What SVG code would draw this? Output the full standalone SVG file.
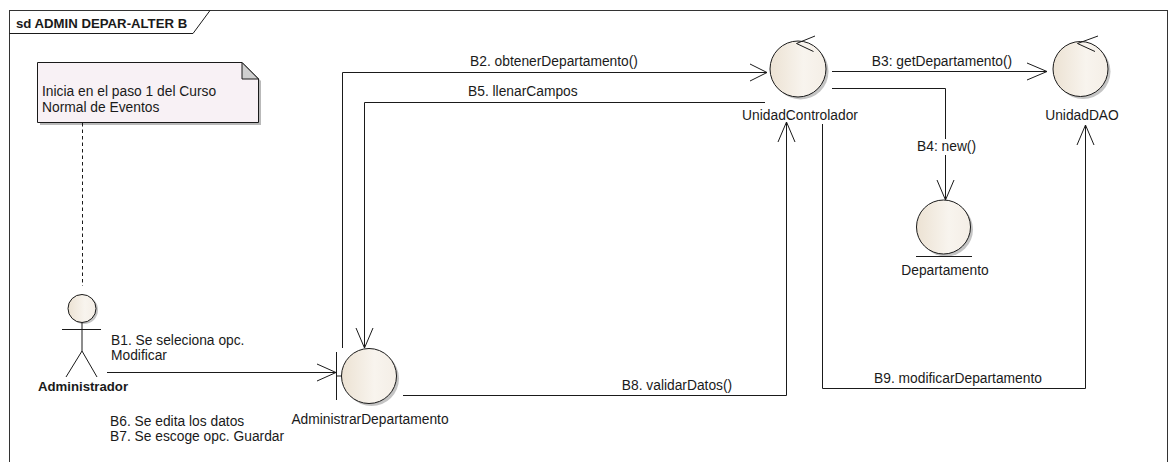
<svg xmlns="http://www.w3.org/2000/svg" width="1172" height="462" viewBox="0 0 1172 462">
  <style>
    text { font-family: "Liberation Sans", Arial, sans-serif; font-size: 13.8px; fill: #1a1a1a; }
    .bold { font-weight: bold; font-size: 13.2px; }
    .mid { text-anchor: middle; }
    .line { fill: none; stroke: #1a1a1a; stroke-width: 1; }
    .node { fill: url(#beige); stroke: #1a1a1a; stroke-width: 1; }
    .shadow { fill: #c4c4c4; stroke: none; }
  </style>
  <defs>
    <linearGradient id="beige" x1="0" y1="0" x2="1" y2="0">
      <stop offset="0" stop-color="#ECE2D3"/>
      <stop offset="0.6" stop-color="#F8F4EE"/>
      <stop offset="1" stop-color="#F4EEE6"/>
    </linearGradient>
  </defs>

  <rect width="1172" height="462" fill="#ffffff"/>

  <!-- frame with name tab -->
  <g id="frame">
    <rect x="9.5" y="10.5" width="1158" height="470" fill="none" stroke="#333" stroke-width="1"/>
    <path d="M9.5,33.5 H193 L210,10.5" class="line"/>
    <text class="bold" x="16" y="27.5">sd ADMIN DEPAR-ALTER B</text>
  </g>

  <!-- note -->
  <g id="note">
    <path d="M40,65 H245 L261,81 V125 H40 Z" fill="#8a8a8a" opacity="0.6"/>
    <path d="M37.5,62.5 H242 L258.5,79 V122.5 H37.5 Z" fill="#F8F1F5" stroke="#1a1a1a" stroke-width="1"/>
    <path d="M242,62.5 V79 H258.5 Z" fill="#cfcfcf" stroke="#1a1a1a" stroke-width="1"/>
    <text x="42" y="95.5">Inicia en el paso 1 del Curso</text>
    <text x="42" y="111.5">Normal de Eventos</text>
  </g>

  <!-- connectors -->
  <g id="connectors">
    <!-- note link -->
    <line x1="82.5" y1="123" x2="82.5" y2="286" stroke="#1a1a1a" stroke-width="1" stroke-dasharray="3.5,3"/>

    <!-- B1 -->
    <line x1="107" y1="372.5" x2="336" y2="372.5" class="line"/>
    <polyline points="317,364 336,372.5 317,381" class="line"/>
    <text x="111" y="345">B1. Se seleciona opc.</text>
    <text x="111" y="360">Modificar</text>

    <!-- B2 -->
    <polyline points="342.5,348 342.5,72.5 767,72.5" class="line"/>
    <polyline points="750,64 767,72.5 750,81" class="line"/>
    <text x="470" y="66">B2. obtenerDepartamento()</text>

    <!-- B3 -->
    <line x1="832" y1="71.5" x2="1047" y2="71.5" class="line"/>
    <polyline points="1027,63 1047,71.5 1027,80" class="line"/>
    <text class="mid" x="942" y="66">B3: getDepartamento()</text>

    <!-- B4 -->
    <polyline points="832,88.5 945.5,88.5 945.5,200" class="line"/>
    <polyline points="937,180 945.5,200 954,180" class="line"/>
    <rect x="915" y="139" width="49" height="16" fill="#ffffff"/>
    <text x="917" y="151">B4: new()</text>

    <!-- B5 -->
    <polyline points="765,102.5 364.5,102.5 364.5,348" class="line"/>
    <polyline points="356,328 364.5,348 373,328" class="line"/>
    <text x="468" y="96">B5. llenarCampos</text>

    <!-- B8 -->
    <polyline points="403,395.5 786.5,395.5 786.5,122" class="line"/>
    <polyline points="778,142 786.5,122 795,142" class="line"/>
    <text class="mid" x="677" y="390">B8. validarDatos()</text>

    <!-- B9 -->
    <polyline points="822.5,124 822.5,388.5 1085.5,388.5 1085.5,125" class="line"/>
    <polyline points="1077,145 1085.5,125 1094,145" class="line"/>
    <text class="mid" x="958" y="383">B9. modificarDepartamento</text>

    <!-- B6 / B7 -->
    <text x="110" y="426">B6. Se edita los datos</text>
    <text x="110" y="441">B7. Se escoge opc. Guardar</text>
  </g>

  <!-- actor -->
  <g id="Administrador">
    <circle cx="84" cy="310" r="14" class="shadow"/>
    <circle cx="82" cy="308.5" r="14" class="node"/>
    <line x1="82" y1="322.5" x2="82" y2="351" class="line"/>
    <line x1="62" y1="329.5" x2="101" y2="329.5" class="line"/>
    <polyline points="66,377 82,351 97,377" class="line"/>
    <text class="bold mid" x="83" y="391">Administrador</text>
  </g>

  <!-- boundary -->
  <g id="AdministrarDepartamento">
    <circle cx="371.5" cy="378.5" r="27.5" class="shadow"/>
    <circle cx="369" cy="376" r="27.5" class="node"/>
    <line x1="336.5" y1="352" x2="336.5" y2="400" class="line"/>
    <line x1="336.5" y1="376" x2="341.5" y2="376" class="line"/>
    <text class="mid" x="370" y="424">AdministrarDepartamento</text>
  </g>

  <!-- controllers -->
  <g id="UnidadControlador">
    <circle cx="800.5" cy="71.5" r="28" class="shadow"/>
    <circle cx="798" cy="69" r="28" class="node"/>
    <polyline points="815,36 796.5,43.5 813.5,51.5" class="line"/>
    <text class="mid" x="800" y="120">UnidadControlador</text>
  </g>

  <g id="UnidadDAO">
    <circle cx="1083" cy="71.5" r="27.5" class="shadow"/>
    <circle cx="1080.5" cy="69" r="27.5" class="node"/>
    <polyline points="1098,36 1077.5,43.5 1095,51.5" class="line"/>
    <text class="mid" x="1082" y="120">UnidadDAO</text>
  </g>

  <!-- entity -->
  <g id="Departamento">
    <circle cx="946" cy="229.5" r="27" class="shadow"/>
    <circle cx="943.5" cy="227" r="27" class="node"/>
    <line x1="916" y1="256.5" x2="972" y2="256.5" class="line"/>
    <text class="mid" x="945" y="275">Departamento</text>
  </g>
</svg>
